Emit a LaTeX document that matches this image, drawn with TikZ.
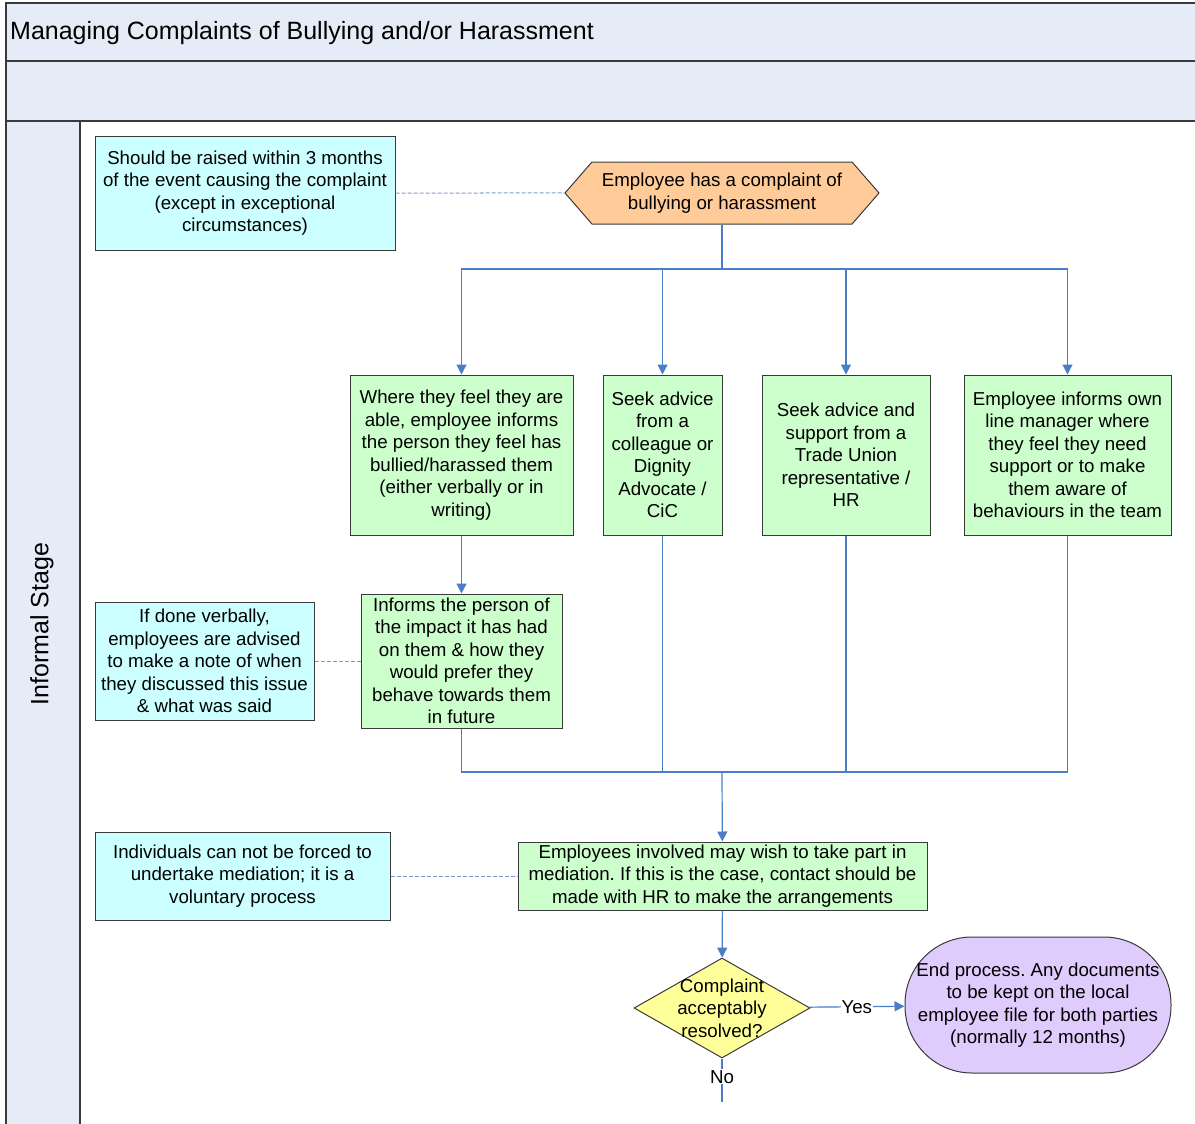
\documentclass[tikz,border=0pt]{standalone}
\usepackage{fontspec}
\setmainfont{Liberation Sans}
\usetikzlibrary{shapes.geometric, shapes.symbols, positioning, arrows.meta}
\usepackage{xcolor}
\definecolor{LaneBlue}{HTML}{E6ECF7}
\definecolor{NoteCyan}{HTML}{CCFFFF}
\definecolor{StepGreen}{HTML}{CCFFCC}
\definecolor{StartPeach}{HTML}{FFCC99}
\definecolor{AskYellow}{HTML}{FFFF99}
\definecolor{EndLilac}{HTML}{E0CBFD}
\definecolor{LinkBlue}{HTML}{4A7EC7}
\definecolor{DashBlue}{HTML}{7C9CD0}
\definecolor{EdgeGrey}{HTML}{3A3A3A}
\frenchspacing

\begin{document}
\begin{tikzpicture}[
            x=1pt, y=-1pt,
            body/.style={font=\fontsize{18.7}{22.5}\selectfont, align=center, inner sep=2pt},
            note/.style={body, draw=EdgeGrey, line width=1pt, fill=NoteCyan},
            stepbox/.style={body, draw=EdgeGrey, line width=1pt, fill=StepGreen},
            start/.style={body, draw=EdgeGrey, line width=1pt, fill=StartPeach, signal, signal to=west and east, signal pointer angle=98},
            decision/.style={draw=EdgeGrey, line width=1pt, fill=AskYellow, diamond, inner sep=0pt},
            finish/.style={body, draw=EdgeGrey, line width=1pt, fill=EndLilac, rounded corners=67pt},
            lane/.style={draw=EdgeGrey, line width=1.4pt, fill=LaneBlue},
            link/.style={LinkBlue, line width=1.2pt},
            arrow/.style={link, -{Triangle[length=10pt, width=10pt]}},
            aside/.style={DashBlue, line width=1pt, dash pattern=on 4pt off 2pt},
            answer/.style={body, text=black, fill=white, inner sep=1pt}
        ]
            \useasboundingbox (0,0) rectangle (1195,1124);
            % pool and lane
            \draw[lane] (6,3) rectangle (1198,61);
            \draw[lane] (6,61) rectangle (1198,121);
            \draw[lane] (6,121) rectangle (80,1130);
            \node[anchor=west, inner sep=0pt, font=\fontsize{25}{28}\selectfont] (title) at (10,33) {Managing Complaints of Bullying and/or Harassment};
            \node[rotate=90, inner sep=0pt, font=\fontsize{25}{28}\selectfont] (stage) at (42,624) {Informal Stage};

            \node[note, minimum width=300pt, minimum height=114pt] (deadline) at (245,193) {Should be raised within 3 months\\of the event causing the complaint\\(except in exceptional\\circumstances)};
            \node[start, minimum width=314pt, minimum height=62pt] (complaint) at (722,193) {Employee has a complaint of\\bullying or harassment};

            \node[stepbox, minimum width=223pt, minimum height=160pt] (inform) at (461.5,455) {Where they feel they are\\able, employee informs\\the person they feel has\\bullied/harassed them\\(either verbally or in\\writing)};
            \node[stepbox, minimum width=119pt, minimum height=160pt] (colleague) at (662.5,455) {Seek advice\\from a\\colleague or\\Dignity\\Advocate /\\CiC};
            \node[stepbox, minimum width=168pt, minimum height=160pt] (union) at (846,455) {Seek advice and\\support from a\\Trade Union\\representative /\\HR};
            \node[stepbox, minimum width=207pt, minimum height=160pt] (manager) at (1067.5,455) {Employee informs own\\line manager where\\they feel they need\\support or to make\\them aware of\\behaviours in the team};

            \node[stepbox, minimum width=201pt, minimum height=134pt, inner sep=0pt] (impact) at (461.5,661) {Informs the person of\\the impact it has had\\on them \& how they\\would prefer they\\behave towards them\\in future};
            \node[note, minimum width=219pt, minimum height=118pt] (verbal) at (204.5,661) {If done verbally,\\employees are advised\\to make a note of when\\they discussed this issue\\\& what was said};

            \node[stepbox, minimum width=409pt, minimum height=68pt, inner sep=0pt] (mediation) at (722.5,876) {Employees involved may wish to take part in\\mediation. If this is the case, contact should be\\made with HR to make the arrangements};
            \node[note, minimum width=295pt, minimum height=88pt] (voluntary) at (242.5,876) {Individuals can not be forced to\\undertake mediation; it is a\\voluntary process};

            \node[decision, minimum width=176pt, minimum height=100pt, label={[body]center:Complaint\\acceptably\\resolved?}] (resolved) at (722,1008) {};
            \node[finish, minimum width=266pt, minimum height=136pt] (close) at (1038,1005) {End process. Any documents\\to be kept on the local\\employee file for both parties\\(normally 12 months)};

            \coordinate (fork) at (722,269);
            \coordinate (merge) at (722,772);
            \coordinate (onward) at (722,1102);

            \draw[aside] (deadline) -- (complaint);
            \draw[aside] (verbal) -- (impact);
            \draw[aside] (voluntary) -- (mediation);

            \draw[link] (complaint) -- (fork);
            \draw[arrow] (fork) -| (inform);
            \draw[arrow] (fork) -| (colleague);
            \draw[arrow] (fork) -| (union);
            \draw[arrow] (fork) -| (manager);
            \draw[arrow] (inform) -- (impact);
            \draw[link] (impact) |- (merge);
            \draw[link] (colleague) |- (merge);
            \draw[link] (union) |- (merge);
            \draw[link] (manager) |- (merge);
            \draw[arrow] (merge) -- (mediation);
            \draw[arrow] (mediation) -- (resolved);
            \draw[arrow] (resolved) -- node[answer]{Yes} (close);
            \draw[link] (resolved) -- node[answer, pos=0.42]{No} (onward);
        \end{tikzpicture}
\end{document}
